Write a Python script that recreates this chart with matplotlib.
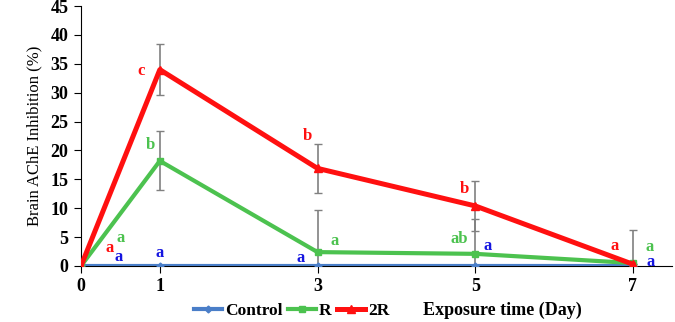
import numpy as np
import matplotlib
matplotlib.use("Agg")
import matplotlib.pyplot as plt

# data
days = [0, 1, 3, 5, 7]
control = [0, 0, 0, 0, 0]
r_vals = [0, 18.2, 2.4, 2.1, 0.5]
r_err = [0, 5.1, 7.3, 6.0, 5.7]
r2_vals = [0, 34.0, 16.9, 10.4, 0.3]
r2_err = [0, 4.4, 4.2, 4.4, 0]

# significance letters: (series, day index, letter, dx px, dy px)
letters = [
    ("2R", 0, "a", 29, 18), ("R", 0, "a", 40, 28), ("Control", 0, "a", 38, 9),
    ("2R", 1, "c", -19, -1), ("R", 1, "b", -9, 16), ("Control", 1, "a", 0, 13),
    ("2R", 2, "b", -10, 32), ("R", 2, "a", 17, 11), ("Control", 2, "a", -17, 8),
    ("2R", 3, "b", -11, 17), ("R", 3, "ab", -16, 15), ("Control", 3, "a", 12, 20),
    ("2R", 4, "a", -18, 18), ("R", 4, "a", 17, 16), ("Control", 4, "a", 18, 4),
]

line_colors = {"Control": "#4A7EC8", "R": "#4CC24F", "2R": "#FF1010"}
text_colors = {"Control": "#1515E0", "R": "#4CC24F", "2R": "#FF1010"}
values = {"Control": control, "R": r_vals, "2R": r2_vals}

plt.rcParams["font.family"] = ["Liberation Serif", "DejaVu Serif"]

fig = plt.figure(figsize=(6.75, 3.22), dpi=100)
ax = fig.add_axes([0.12, 0.174, 0.876, 0.807])

ax.errorbar(days, r2_vals, yerr=r2_err, fmt="none", ecolor="#808080",
            elinewidth=1.2, capsize=3, zorder=1)
ax.errorbar(days, r_vals, yerr=r_err, fmt="none", ecolor="#808080",
            elinewidth=1.2, capsize=3, zorder=1)

ax.plot(days, control, color=line_colors["Control"], lw=3.0, marker="D",
        ms=3.5, label="Control", zorder=3)
ax.plot(days, r_vals, color=line_colors["R"], lw=3.0, marker="s",
        ms=5, label="R", zorder=3)
ax.plot(days, r2_vals, color=line_colors["2R"], lw=3.6, marker="^",
        ms=6, label="2R", zorder=4)

for series, i, txt, dx, dy in letters:
    ax.annotate(txt, (days[i], values[series][i]), xytext=(dx, dy),
                textcoords="offset pixels", ha="center", va="center",
                color=text_colors[series], fontweight="bold", fontsize=12)

ax.set_xlim(0, 7.5)
ax.set_ylim(0, 45)
ax.set_xticks(days)
ax.set_yticks(np.arange(0, 46, 5))
ax.spines["top"].set_visible(False)
ax.spines["right"].set_visible(False)
ax.spines["left"].set_clip_on(False)
ax.tick_params(direction="out", length=5, labelsize=13, pad=4)
for lab in ax.get_xticklabels() + ax.get_yticklabels():
    lab.set_fontweight("bold")
ax.set_ylabel("Brain AChE Inhibition (%)", fontsize=12, labelpad=6)

fig.legend(loc="center", bbox_to_anchor=(0.432, 0.035), ncol=3, frameon=False,
           prop={"weight": "bold", "size": 12.5}, handlelength=1.6,
           columnspacing=0.3, handletextpad=0.2, borderpad=0.1)
fig.text(0.627, 0.035, "Exposure time (Day)", ha="left", va="center",
         fontsize=13, fontweight="bold")

fig.savefig("out.png", dpi=100)
